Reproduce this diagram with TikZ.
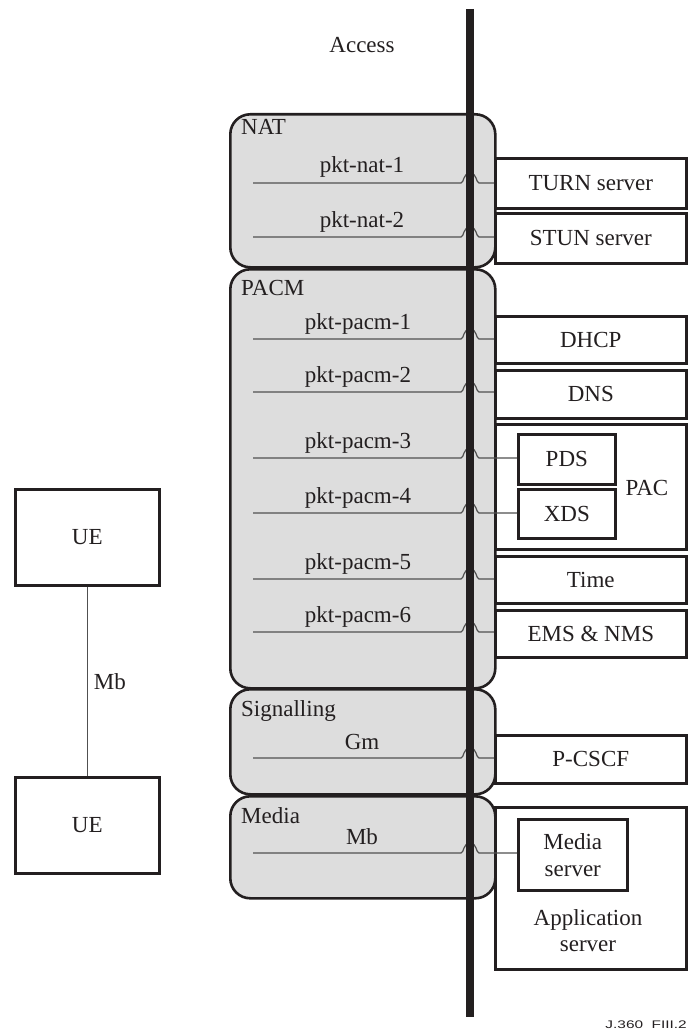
\documentclass[tikz,border=0pt]{standalone}
\usepackage{fontspec}
\setmainfont{Liberation Serif}
\newfontfamily\figsans{Liberation Sans}
\usetikzlibrary{calc}
\definecolor{panel}{RGB}{221,221,221}
\definecolor{ink}{RGB}{35,31,32}
\definecolor{wire}{RGB}{80,80,80}
\tikzset{
  x=1pt, y=-1pt,
  every node/.style={font=\fontsize{23}{27}\selectfont, text=ink},
  layer/.style={draw=ink, line width=2.6pt, fill=panel, rounded corners=20pt,
    anchor=north west, inner sep=0pt},
  srv/.style={draw=ink, line width=2.6pt, fill=white, anchor=north west,
    inner sep=0pt, align=center},
  link/.style={draw=wire, line width=1.2pt},
  lbl/.style={anchor=base, inner sep=0pt},
  ttl/.style={anchor=base west, inner sep=0pt},
}
% connector that hops over the access boundary and ends at a server box
\newcommand\linkhop[2]{%
  \draw[link] (#1) -- ($(#1 -| bar)+(-9,0)$)
    .. controls +(3,0) and +(-7,0) .. ($(#1 -| bar)+(0,-10)$)
    .. controls +(7,0) and +(-3,0) .. ($(#1 -| bar)+(9,0)$)
    -- (#1 -| #2.west);}
\begin{document}
\begin{tikzpicture}
\useasboundingbox (0,0) rectangle (688,1032);

% access boundary position
\coordinate (bar) at (470,9);
\coordinate (barend) at (470,1017);

% protocol layers
\node[layer, minimum width=265pt, minimum height=153pt] (nat) at (229,113) {};
\node[layer, minimum width=265pt, minimum height=419pt] (pacm) at (229,268) {};
\node[layer, minimum width=265pt, minimum height=105pt] (sig) at (229,688) {};
\node[layer, minimum width=265pt, minimum height=102pt] (med) at (229,795) {};

\node[ttl] (tnat) at (241,135) {NAT};
\node[ttl] (tpacm) at (241,295) {PACM};
\node[ttl] (tsig) at (241,716) {Signalling};
\node[ttl] (tmed) at (241,823) {Media};

% servers on the network side
\node[srv, minimum width=191pt, minimum height=50pt] (turn) at (494,157) {TURN server};
\node[srv, minimum width=191pt, minimum height=50pt] (stun) at (494,212) {STUN server};
\node[srv, minimum width=191pt, minimum height=47pt] (dhcp) at (494,315) {DHCP};
\node[srv, minimum width=191pt, minimum height=48pt] (dns) at (494,369) {DNS};
\node[srv, minimum width=191pt, minimum height=125pt] (pac) at (494,423) {};
\node[anchor=center, inner sep=0pt] (tpac) at (647,488) {PAC};
\node[srv, minimum width=97pt, minimum height=50pt] (pds) at (517,433) {PDS};
\node[srv, minimum width=97pt, minimum height=49pt] (xds) at (517,488) {XDS};
\node[srv, minimum width=191pt, minimum height=47pt] (time) at (494,555) {Time};
\node[srv, minimum width=191pt, minimum height=47pt] (ems) at (494,609) {EMS \& NMS};
\node[srv, minimum width=191pt, minimum height=48pt] (pcscf) at (494,734) {P-CSCF};
\node[srv, minimum width=191pt, minimum height=162pt] (app) at (494,806) {};
\node[anchor=center, align=center, inner sep=0pt] (tapp) at (588,931)
  {Application\\[-1pt]server};
\node[srv, minimum width=109pt, minimum height=71pt] (msrv) at (517,818)
  {Media\\[0pt]server};

% user equipment
\node[srv, minimum width=144pt, minimum height=96pt] (ue1) at (14,488) {UE};
\node[srv, minimum width=144pt, minimum height=96pt] (ue2) at (14,776) {UE};
\draw[link] (ue1) -- node[right, inner sep=0pt, xshift=6pt] (mbl) {Mb} (ue2);

% reference point labels and their connectors
\coordinate (s1) at (253,183);
\coordinate (s2) at (253,237);
\coordinate (s3) at (253,339);
\coordinate (s4) at (253,392);
\coordinate (s5) at (253,458);
\coordinate (s6) at (253,513);
\coordinate (s7) at (253,579);
\coordinate (s8) at (253,632);
\coordinate (s9) at (253,758);
\coordinate (s10) at (253,853);

\node[lbl] (l1) at (362,173) {pkt-nat-1};
\node[lbl] (l2) at (362,227) {pkt-nat-2};
\node[lbl] (l3) at (358,329) {pkt-pacm-1};
\node[lbl] (l4) at (358,382) {pkt-pacm-2};
\node[lbl] (l5) at (358,448) {pkt-pacm-3};
\node[lbl] (l6) at (358,503) {pkt-pacm-4};
\node[lbl] (l7) at (358,569) {pkt-pacm-5};
\node[lbl] (l8) at (358,622) {pkt-pacm-6};
\node[lbl] (l9) at (362,749) {Gm};
\node[lbl] (l10) at (362,844) {Mb};

\linkhop{s1}{turn}
\linkhop{s2}{stun}
\linkhop{s3}{dhcp}
\linkhop{s4}{dns}
\linkhop{s5}{pds}
\linkhop{s6}{xds}
\linkhop{s7}{time}
\linkhop{s8}{ems}
\linkhop{s9}{pcscf}
\linkhop{s10}{msrv}

% access boundary
\draw[ink, line width=8pt] (bar) -- (barend);
\node[lbl] (acc) at (362,53) {Access};

% figure reference
\node[anchor=base east, inner sep=0pt, font=\figsans\fontsize{11}{13}\selectfont]
  (fig) at (687,1028) {\scalebox{1.4}[1]{J.360\ \ FIII.2}};
\end{tikzpicture}
\end{document}
